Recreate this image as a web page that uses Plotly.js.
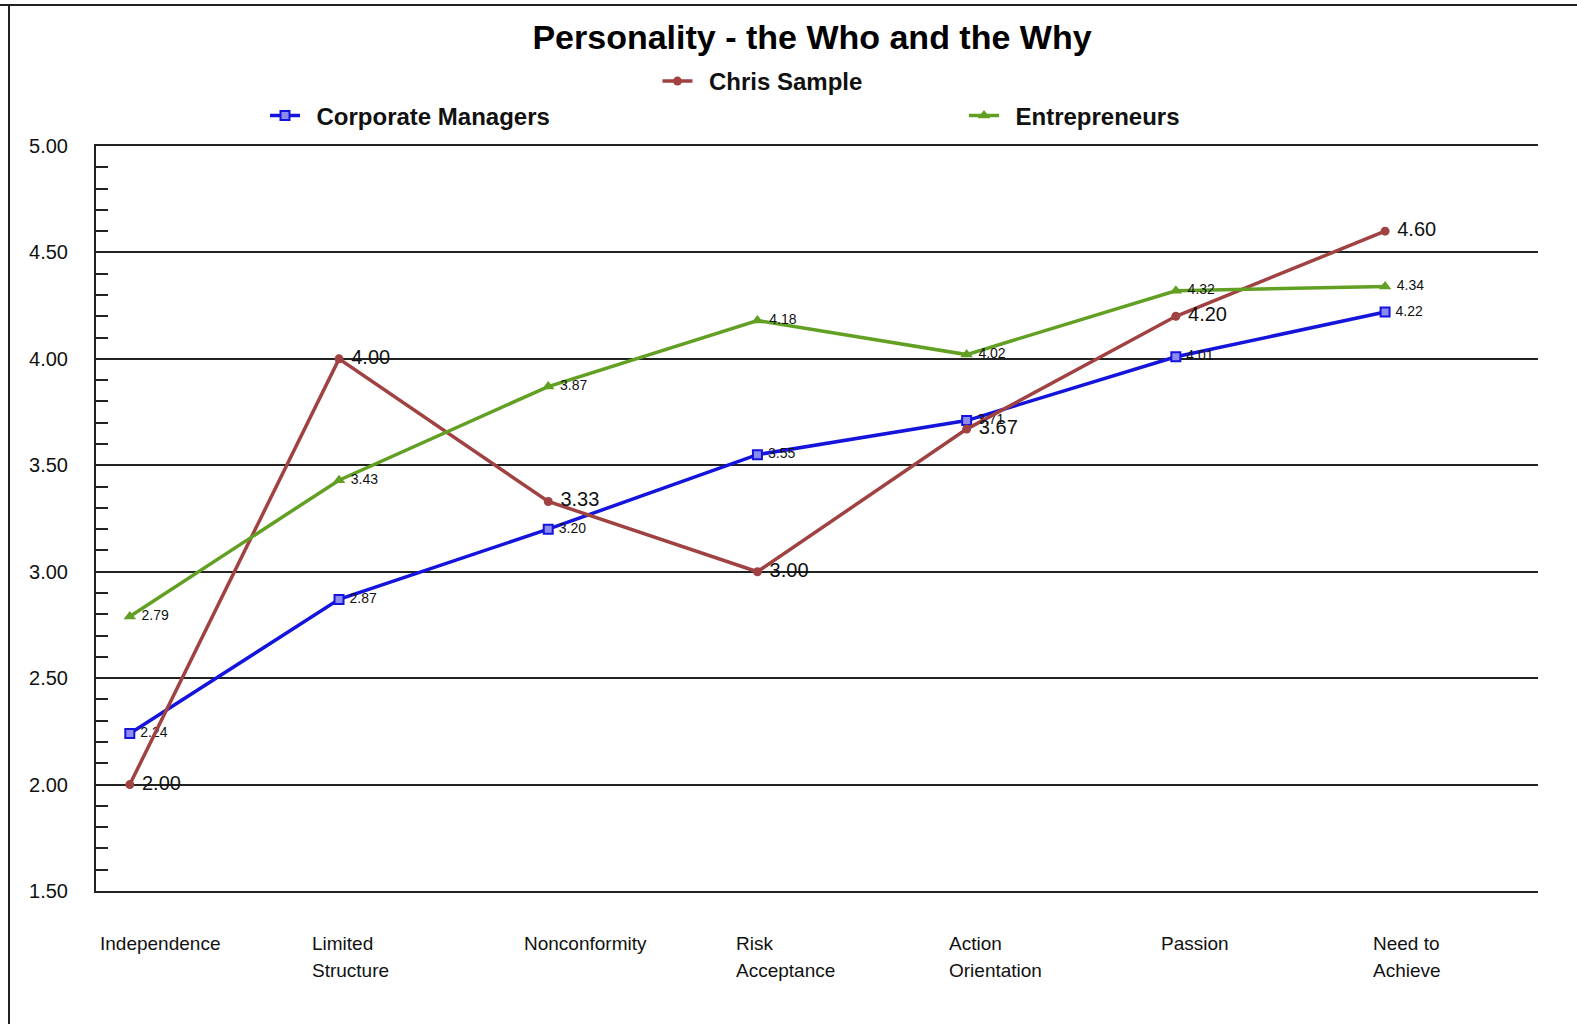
<!DOCTYPE html>
<html>
<head>
<meta charset="utf-8">
<script src="https://cdn.plot.ly/plotly-3.0.1.min.js"></script>
<style>
html,body{margin:0;padding:0;background:#fff;overflow:hidden;width:1577px;height:1024px;}
#chart{width:1577px;height:1024px;position:absolute;left:0;top:0;}
</style>
</head>
<body>
<div id="chart"></div>
<script>
const categories = ["Independence", "Limited<br>Structure", "Nonconformity", "Risk<br>Acceptance", "Action<br>Orientation", "Passion", "Need to<br>Achieve"];
const corporateManagers = [2.24, 2.87, 3.20, 3.55, 3.71, 4.01, 4.22];
const chrisSample = [2.00, 4.00, 3.33, 3.00, 3.67, 4.20, 4.60];
const entrepreneurs = [2.79, 3.43, 3.87, 4.18, 4.02, 4.32, 4.34];
const yTickVals = [1.5, 2.0, 2.5, 3.0, 3.5, 4.0, 4.5, 5.0];

const FONT = "Liberation Sans, Arial, sans-serif";
const idx = categories.map((c, i) => i);
const fmt = v => v.toFixed(2);
const lbl = v => "\u00a0" + v.toFixed(2);
const LEG_GAP = "\u00a0\u2009";

// plot area in pixels
const PL = 96, PR = 1538, PT = 146, PB = 891;
const PW = PR - PL, PH = PB - PT;

const traces = [
  {
    name: LEG_GAP + "Corporate Managers", x: idx, y: corporateManagers,
    mode: "lines+markers+text", text: corporateManagers.map(lbl),
    textposition: "middle right", textfont: {family: FONT, size: 14, color: "#111"},
    line: {color: "#1414dc", width: 3.5},
    marker: {symbol: "square", size: 9, color: "#8c8cf0", line: {color: "#1414dc", width: 2}},
    legend: "legend", cliponaxis: false
  },
  {
    name: LEG_GAP + "Chris Sample", x: idx, y: chrisSample,
    mode: "lines+markers+text", text: chrisSample.map(lbl),
    textposition: "middle right", textfont: {family: FONT, size: 20, color: "#111"},
    line: {color: "#a04242", width: 3.5},
    marker: {symbol: "circle", size: 9, color: "#a04242"},
    legend: "legend2", cliponaxis: false
  },
  {
    name: LEG_GAP + "Entrepreneurs", x: idx, y: entrepreneurs,
    mode: "lines+markers+text", text: entrepreneurs.map(lbl),
    textposition: "middle right", textfont: {family: FONT, size: 14, color: "#111"},
    line: {color: "#62a024", width: 3.5},
    marker: {symbol: "triangle-up", size: 11, color: "#62a024"},
    legend: "legend3", cliponaxis: false
  }
];

const catAnnotations = [];
categories.forEach((c, i) => {
  c.split("<br>").forEach((line, j) => {
    catAnnotations.push({
      x: i, y: 0, xref: "x", yref: "paper", text: line, showarrow: false,
      xanchor: "left", yanchor: "middle", align: "left",
      xshift: -32 + 3 * i, yshift: -52 - 27 * j,
      font: {family: FONT, size: 19, color: "#111"}
    });
  });
});

const legendCommon = {
  orientation: "h", xanchor: "left", yanchor: "middle", bgcolor: "rgba(0,0,0,0)",
  font: {family: FONT, size: 24, color: "#111", weight: "bold"}, itemwidth: 30, borderwidth: 0
};
const lx = px => (px - PL) / PW;
const ly = py => 1 + (PT - py) / PH;

const layout = {
  width: 1577, height: 1024,
  margin: {l: PL, r: 1577 - PR, t: PT, b: 1024 - PB},
  paper_bgcolor: "#fff", plot_bgcolor: "#fff",
  font: {family: FONT, color: "#111"},
  title: {
    text: "<b>Personality - the Who and the Why</b>",
    font: {family: FONT, size: 34, color: "#000"},
    x: 812 / 1577, xanchor: "center", y: 1 - 37 / 1024, yanchor: "middle", xref: "container", yref: "container"
  },
  showlegend: true,
  legend: Object.assign({}, legendCommon, {x: lx(265), y: ly(116)}),
  legend2: Object.assign({}, legendCommon, {x: lx(657.5), y: ly(81.5)}),
  legend3: Object.assign({}, legendCommon, {x: lx(964), y: ly(116)}),
  xaxis: {
    range: [-0.1616, 6.731], showgrid: false, zeroline: false,
    showline: true, linecolor: "#222", linewidth: 2, mirror: true,
    showticklabels: false, ticks: "", fixedrange: true
  },
  yaxis: {
    range: [1.5, 5.0], tickvals: yTickVals, ticktext: yTickVals.map(fmt),
    showgrid: true, gridcolor: "#222", gridwidth: 2, zeroline: false,
    showline: true, linecolor: "#222", linewidth: 2,
    ticks: "inside", ticklen: 12, tickcolor: "#222", tickwidth: 2,
    ticklabelstandoff: 22,
    tickfont: {family: FONT, size: 20, color: "#111"},
    minor: {dtick: 0.1, ticks: "inside", ticklen: 12, tickcolor: "#222", tickwidth: 2, showgrid: false},
    fixedrange: true
  },
  annotations: catAnnotations,
  shapes: [
    {type: "line", xref: "paper", yref: "paper", x0: lx(-10), x1: lx(1590), y0: ly(5), y1: ly(5), line: {color: "#222", width: 2}},
    {type: "line", xref: "paper", yref: "paper", x0: lx(9), x1: lx(9), y0: ly(5), y1: ly(1040), line: {color: "#222", width: 2}}
  ]
};

Plotly.newPlot("chart", traces, layout, {displayModeBar: false, staticPlot: true});
</script>
</body>
</html>
